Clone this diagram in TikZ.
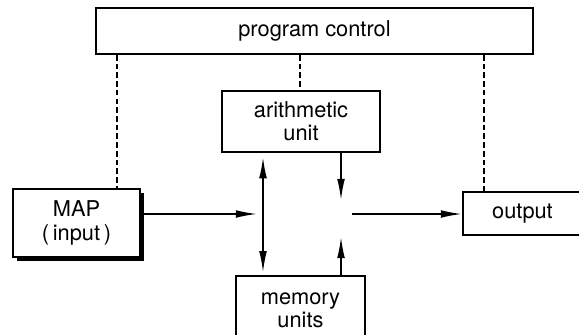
\documentclass[tikz,border=0pt]{standalone}
\usepackage{fontspec}
\setmainfont{TeX Gyre Heros}
\usepackage{tikz}
\usetikzlibrary{positioning,arrows.meta,shadows}

\tikzset{
  unitbox/.style={draw, line width=1.4pt, fill=white, align=center, inner sep=0pt,
    font=\fontsize{15.5}{16.5}\selectfont},
  flow/.style={line width=1.1pt, -{Latex[length=15pt,width=5.5pt]}},
  ctrl/.style={line width=0.8pt, dash pattern=on 4pt off 2.2pt},
}

\begin{document}
\begin{tikzpicture}[x=0.025cm,y=-0.025cm]
\useasboundingbox (0,0) rectangle (579,335);
\node[unitbox, minimum width=10.925cm, minimum height=1.15cm] (prog) at (314.5,31) {program control};
\node[unitbox, minimum width=3.95cm, minimum height=1.525cm] (arith) at (301,121.5) {arithmetic\\unit};
\node[unitbox, minimum width=3.175cm, minimum height=1.7cm,
  general shadow={fill=black, shadow xshift=2.6pt, shadow yshift=-2.6pt}] (map) at (76.5,223) {MAP\\(\,input\,)};
\node[unitbox, minimum width=2.975cm, minimum height=1.075cm] (out) at (522.5,213.5) {output};
\node[unitbox, minimum width=3.225cm, minimum height=1.725cm] (mem) at (300.5,310.5) {memory\\units};
% free ends near the centre
\coordinate (inL) at (257,214);
\coordinate (outS) at (352,214);
\coordinate (aTip) at (341,200);
\coordinate (mTip) at (341,237);
\coordinate (dbl) at (263,0);
% control lines
\foreach \x/\n in {117/map,300/arith,484/out} {
  \coordinate (c\n) at (\x,0);
  \draw[ctrl] (prog.south -| c\n) -- (\n.north -| c\n);
}
% data flow
\draw[flow] (inL -| map.east) -- (inL);
\draw[flow] (outS) -- (outS -| out.west);
\draw[flow] (arith.south -| aTip) -- (aTip);
\draw[flow] (mem.north -| mTip) -- (mTip);
\draw[line width=1.1pt, {Latex[length=15pt,width=5.5pt]}-{Latex[length=15pt,width=5.5pt]}]
  ([yshift=-3pt]arith.south -| dbl) -- ([yshift=2pt]mem.north -| dbl);
\end{tikzpicture}
\end{document}
